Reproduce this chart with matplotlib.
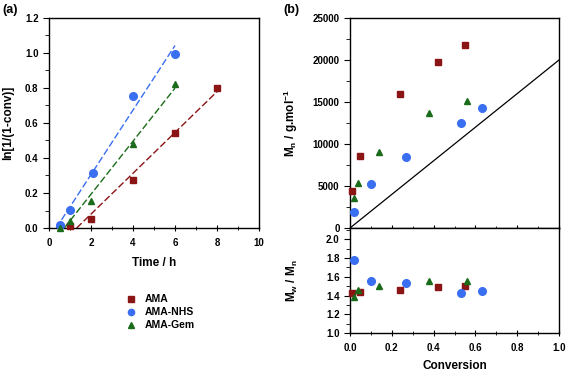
import numpy as np
import matplotlib
matplotlib.use("Agg")
import matplotlib.pyplot as plt
from matplotlib.ticker import MultipleLocator
from matplotlib.lines import Line2D

plt.rcParams['font.family'] = ['Liberation Sans', 'DejaVu Sans']
plt.rcParams['font.weight'] = 'bold'
plt.rcParams['mathtext.fontset'] = 'custom'
plt.rcParams['mathtext.rm'] = 'Liberation Sans:bold'
plt.rcParams['mathtext.it'] = 'Liberation Sans:bold'
plt.rcParams['mathtext.bf'] = 'Liberation Sans:bold'

# ---- data ----
series = ["AMA", "AMA-NHS", "AMA-Gem"]
colors = ["#8B1414", "#3A6FF2", "#1A6B1A"]
markers = ["s", "o", "^"]

time_ama = [1, 2, 4, 6, 8]
ln_ama = [0.01, 0.05, 0.275, 0.545, 0.80]
time_nhs = [0.5, 1, 2.1, 4, 6]
ln_nhs = [0.02, 0.105, 0.315, 0.755, 0.995]
time_gem = [0.5, 1, 2, 4, 6]
ln_gem = [0.0, 0.04, 0.155, 0.48, 0.82]

conv_ama = [0.01, 0.05, 0.24, 0.42, 0.55]
mn_ama = [4400, 8600, 15950, 19800, 21800]
pdi_ama = [1.43, 1.44, 1.46, 1.49, 1.505]
conv_nhs = [0.02, 0.10, 0.27, 0.53, 0.63]
mn_nhs = [1900, 5240, 8410, 12540, 14330]
pdi_nhs = [1.78, 1.55, 1.535, 1.43, 1.445]
conv_gem = [0.02, 0.04, 0.14, 0.38, 0.56]
mn_gem = [3610, 5400, 9090, 13730, 15160]
pdi_gem = [1.385, 1.455, 1.50, 1.55, 1.56]

theory_conv = [0.0, 1.0]
theory_mn = [0, 20000]

times = [time_ama, time_nhs, time_gem]
lns = [ln_ama, ln_nhs, ln_gem]
convs = [conv_ama, conv_nhs, conv_gem]
mns = [mn_ama, mn_nhs, mn_gem]
pdis = [pdi_ama, pdi_nhs, pdi_gem]

fig = plt.figure(figsize=(5.67, 3.73), dpi=100)
W, H = 567, 373
def rect(l, t, r, b):
    return [l / W, 1 - b / H, (r - l) / W, (b - t) / H]

ax_a = fig.add_axes(rect(49, 18, 259, 228))
ax_b = fig.add_axes(rect(350, 18, 559, 228))
ax_c = fig.add_axes(rect(350, 228, 559, 333))

fs_tick = 7
fs_lab = 8.5

# ---- panel (a) ----
for t, l, c, m, name in zip(times, lns, colors, markers, series):
    t = np.array(t, float); l = np.array(l, float)
    k, b0 = np.polyfit(t, l, 1)
    x0 = max(-b0 / k, t[0] - 0.5)
    xs = np.array([x0, t[-1]])
    ax_a.plot(xs, k * xs + b0, color=c, lw=1.0, dashes=(5, 2), zorder=2)
    ax_a.plot(t, l, m, color=c, ms=5 if m != 'o' else 5.5, mec=c, lw=0, zorder=3, clip_on=False, label=name)

ax_a.set_xlim(0, 10)
ax_a.set_ylim(0, 1.2)
ax_a.xaxis.set_major_locator(MultipleLocator(2))
ax_a.xaxis.set_minor_locator(MultipleLocator(1))
ax_a.yaxis.set_major_locator(MultipleLocator(0.2))
ax_a.yaxis.set_minor_locator(MultipleLocator(0.1))
ax_a.yaxis.set_major_formatter(matplotlib.ticker.FormatStrFormatter('%.1f'))
ax_a.set_xlabel("Time / h", fontsize=fs_lab, fontweight='bold', labelpad=7)
ax_a.set_ylabel("ln[1/(1-conv)]", fontsize=fs_lab, fontweight='bold', labelpad=8)
ax_a.tick_params(axis='x', which='both', direction='inout', labelsize=fs_tick, pad=5)
ax_a.tick_params(axis='y', which='both', direction='out', labelsize=fs_tick)
ax_a.tick_params(which='major', length=4)
ax_a.tick_params(which='minor', length=3)

# ---- panel (b) top ----
ax_b.plot(theory_conv, theory_mn, color='black', lw=0.9, zorder=2)
for cv, mn, c, m in zip(convs, mns, colors, markers):
    ax_b.plot(cv, mn, m, color=c, ms=5 if m != 'o' else 5.5, mec=c, lw=0, zorder=3, clip_on=False)
ax_b.set_xlim(0, 1)
ax_b.set_ylim(0, 25000)
ax_b.xaxis.set_major_locator(MultipleLocator(0.2))
ax_b.xaxis.set_minor_locator(MultipleLocator(0.1))
ax_b.yaxis.set_major_locator(MultipleLocator(5000))
ax_b.yaxis.set_minor_locator(MultipleLocator(2500))
ax_b.tick_params(axis='x', which='both', direction='inout', labelbottom=False)
ax_b.tick_params(axis='y', which='both', direction='out', labelsize=fs_tick)
ax_b.tick_params(which='major', length=4)
ax_b.tick_params(which='minor', length=3)
ax_b.set_ylabel(r"M$_{\mathregular{n}}$ / g.mol$^{\mathregular{-1}}$", fontsize=fs_lab, fontweight='bold')

# ---- panel (b) bottom ----
for cv, pd_, c, m in zip(convs, pdis, colors, markers):
    ax_c.plot(cv, pd_, m, color=c, ms=5 if m != 'o' else 5.5, mec=c, lw=0, zorder=3, clip_on=False)
ax_c.set_xlim(0, 1)
ax_c.set_ylim(1.0, 2.12)
ax_c.xaxis.set_major_locator(MultipleLocator(0.2))
ax_c.xaxis.set_minor_locator(MultipleLocator(0.1))
ax_c.yaxis.set_major_locator(MultipleLocator(0.2))
ax_c.yaxis.set_minor_locator(MultipleLocator(0.1))
ax_c.xaxis.set_major_formatter(matplotlib.ticker.FormatStrFormatter('%.1f'))
ax_c.yaxis.set_major_formatter(matplotlib.ticker.FormatStrFormatter('%.1f'))
ax_c.tick_params(axis='x', which='both', direction='inout', labelsize=fs_tick, pad=5)
ax_c.tick_params(axis='y', which='both', direction='out', labelsize=fs_tick)
ax_c.tick_params(which='major', length=4)
ax_c.tick_params(which='minor', length=3)
ax_c.set_xlabel("Conversion", fontsize=fs_lab, fontweight='bold', labelpad=5)
ax_c.set_ylabel(r"M$_{\mathregular{w}}$ / M$_{\mathregular{n}}$", fontsize=fs_lab, fontweight='bold')

for ax in (ax_a, ax_b, ax_c):
    for s in ax.spines.values():
        s.set_linewidth(1.0)

ax_b.yaxis.set_label_coords(-0.24, 0.5)
ax_c.yaxis.set_label_coords(-0.24, 0.5)

# panel letters
fig.text(2 / W, 1 - 10 / H, "(a)", fontsize=9, fontweight='bold', va='center', ha='left')
fig.text(283 / W, 1 - 10 / H, "(b)", fontsize=9, fontweight='bold', va='center', ha='left')

# legend
handles = [Line2D([], [], ls='', marker=m, color=c, mec=c, ms=4.5) for m, c in zip(markers, colors)]
fig.legend(handles, series, loc='upper left', bbox_to_anchor=(118 / W, 1 - 289 / H),
           frameon=False, handletextpad=0.6, labelspacing=0.3,
           prop={'weight': 'bold', 'size': 7.5}, handlelength=1.5, borderpad=0)

fig.savefig("out.png", dpi=100)
